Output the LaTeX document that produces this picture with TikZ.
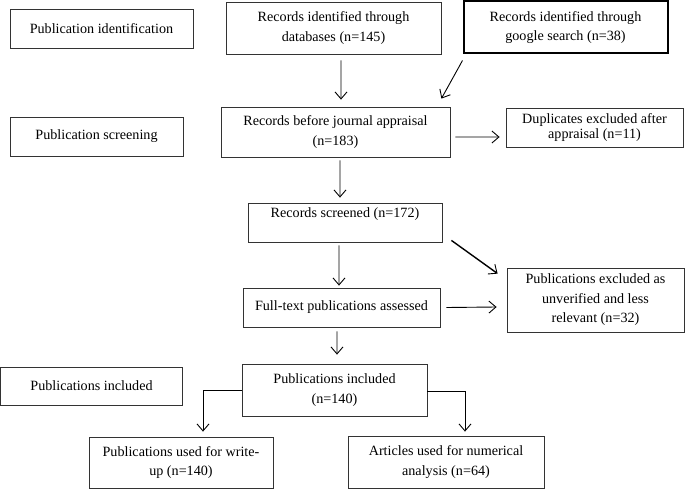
\documentclass[tikz,border=0pt]{standalone}
\usepackage{fontspec}
\setmainfont{Liberation Serif}
\usetikzlibrary{arrows.meta}
\tikzset{
  box/.style={draw=black!80, line width=0.8bp, align=center, inner sep=2bp,
    font=\fontsize{14.2}{19.5}\selectfont},
  arr/.style={line width=0.9bp, -{Straight Barb[length=7bp,width=12bp,line width=0.9bp]}}
}

\begin{document}
\begin{tikzpicture}[x=1bp, y=-1bp]
		%%%%% START %%%%%
		\useasboundingbox (0,0) rectangle (685,489);
		
		% stage labels
		\node[box, minimum width=183bp, minimum height=39bp] (pubid) at (101.5, 28.5) {Publication identification};
		\node[box, minimum width=173bp, minimum height=39bp] (pubscr) at (96.5, 136.5) {Publication screening};
		\node[box, minimum width=182bp, minimum height=38bp] (pubinc) at (91.5, 386) {Publications included};
		
		% flow
		\node[box, minimum width=215bp, minimum height=52bp] (db) at (333.5, 28) {Records identified through\\databases (n=145)};
		\node[box, draw=black, line width=2bp, minimum width=204bp, minimum height=52bp] (google) at (565.5, 27.5) {Records identified through\\google search (n=38)};
		\node[box, minimum width=229bp, minimum height=50bp] (before) at (335.5, 132) {Records before journal appraisal\\(n=183)};
		\node[box, font=\fontsize{14.2}{15.5}\selectfont, minimum width=177bp, minimum height=39bp] (dup) at (594.5, 127.5) {Duplicates excluded after\\appraisal (n=11)};
		\node[box, minimum width=194bp, minimum height=39bp] (screened) at (345, 222.5) {Records screened (n=172)\\~};
		\node[box, minimum width=197bp, minimum height=39bp] (fulltext) at (341.5, 307.5) {Full-text publications assessed};
		\node[box, minimum width=177bp, minimum height=64bp] (excl) at (595.5, 300) {Publications excluded as\\unverified and less\\relevant (n=32)};
		\node[box, minimum width=185bp, minimum height=52bp] (included) at (334.5, 390) {Publications included\\(n=140)};
		\node[box, minimum width=184bp, minimum height=51bp] (writeup) at (181, 462.5) {Publications used for write-\\up (n=140)};
		\node[box, minimum width=196bp, minimum height=52bp] (articles) at (446, 462) {Articles used for numerical\\analysis (n=64)};
		
		% arrows
		\draw[arr] ([xshift=7.5bp,yshift=-6bp]db.south) -- ([xshift=5.5bp,yshift=7bp]before.north);
		\draw[arr] ([yshift=-6bp]google.south west) -- ([xshift=-9bp,yshift=8bp]before.north east);
		\draw[arr] ([xshift=5bp,yshift=-5bp]before.east) -- ([xshift=-6bp,yshift=-9.5bp]dup.west);
		\draw[arr] ([xshift=4.5bp,yshift=-3bp]before.south) -- ([xshift=-5bp,yshift=5bp]screened.north);
		\draw[arr] ([xshift=-6bp,yshift=-3bp]screened.south) -- ([xshift=-2.5bp,yshift=2bp]fulltext.north);
		\draw[arr, line width=1.4bp] ([xshift=9bp,yshift=2bp]screened.south east) -- ([xshift=-9bp,yshift=-6bp]excl.north west);
		\draw[arr] ([xshift=6bp]fulltext.east) -- ([xshift=-10bp,yshift=-7bp]excl.west);
		\draw[arr] ([xshift=-4.5bp,yshift=-4bp]fulltext.south) -- ([xshift=2.5bp,yshift=9bp]included.north);
		\draw[arr] (included.west) -| ([xshift=22bp,yshift=5bp]writeup.north);
		\draw[arr] ([yshift=-1bp]included.east) -| ([xshift=19bp,yshift=4bp]articles.north);
		%%%%% END %%%%%
	\end{tikzpicture}
\end{document}
